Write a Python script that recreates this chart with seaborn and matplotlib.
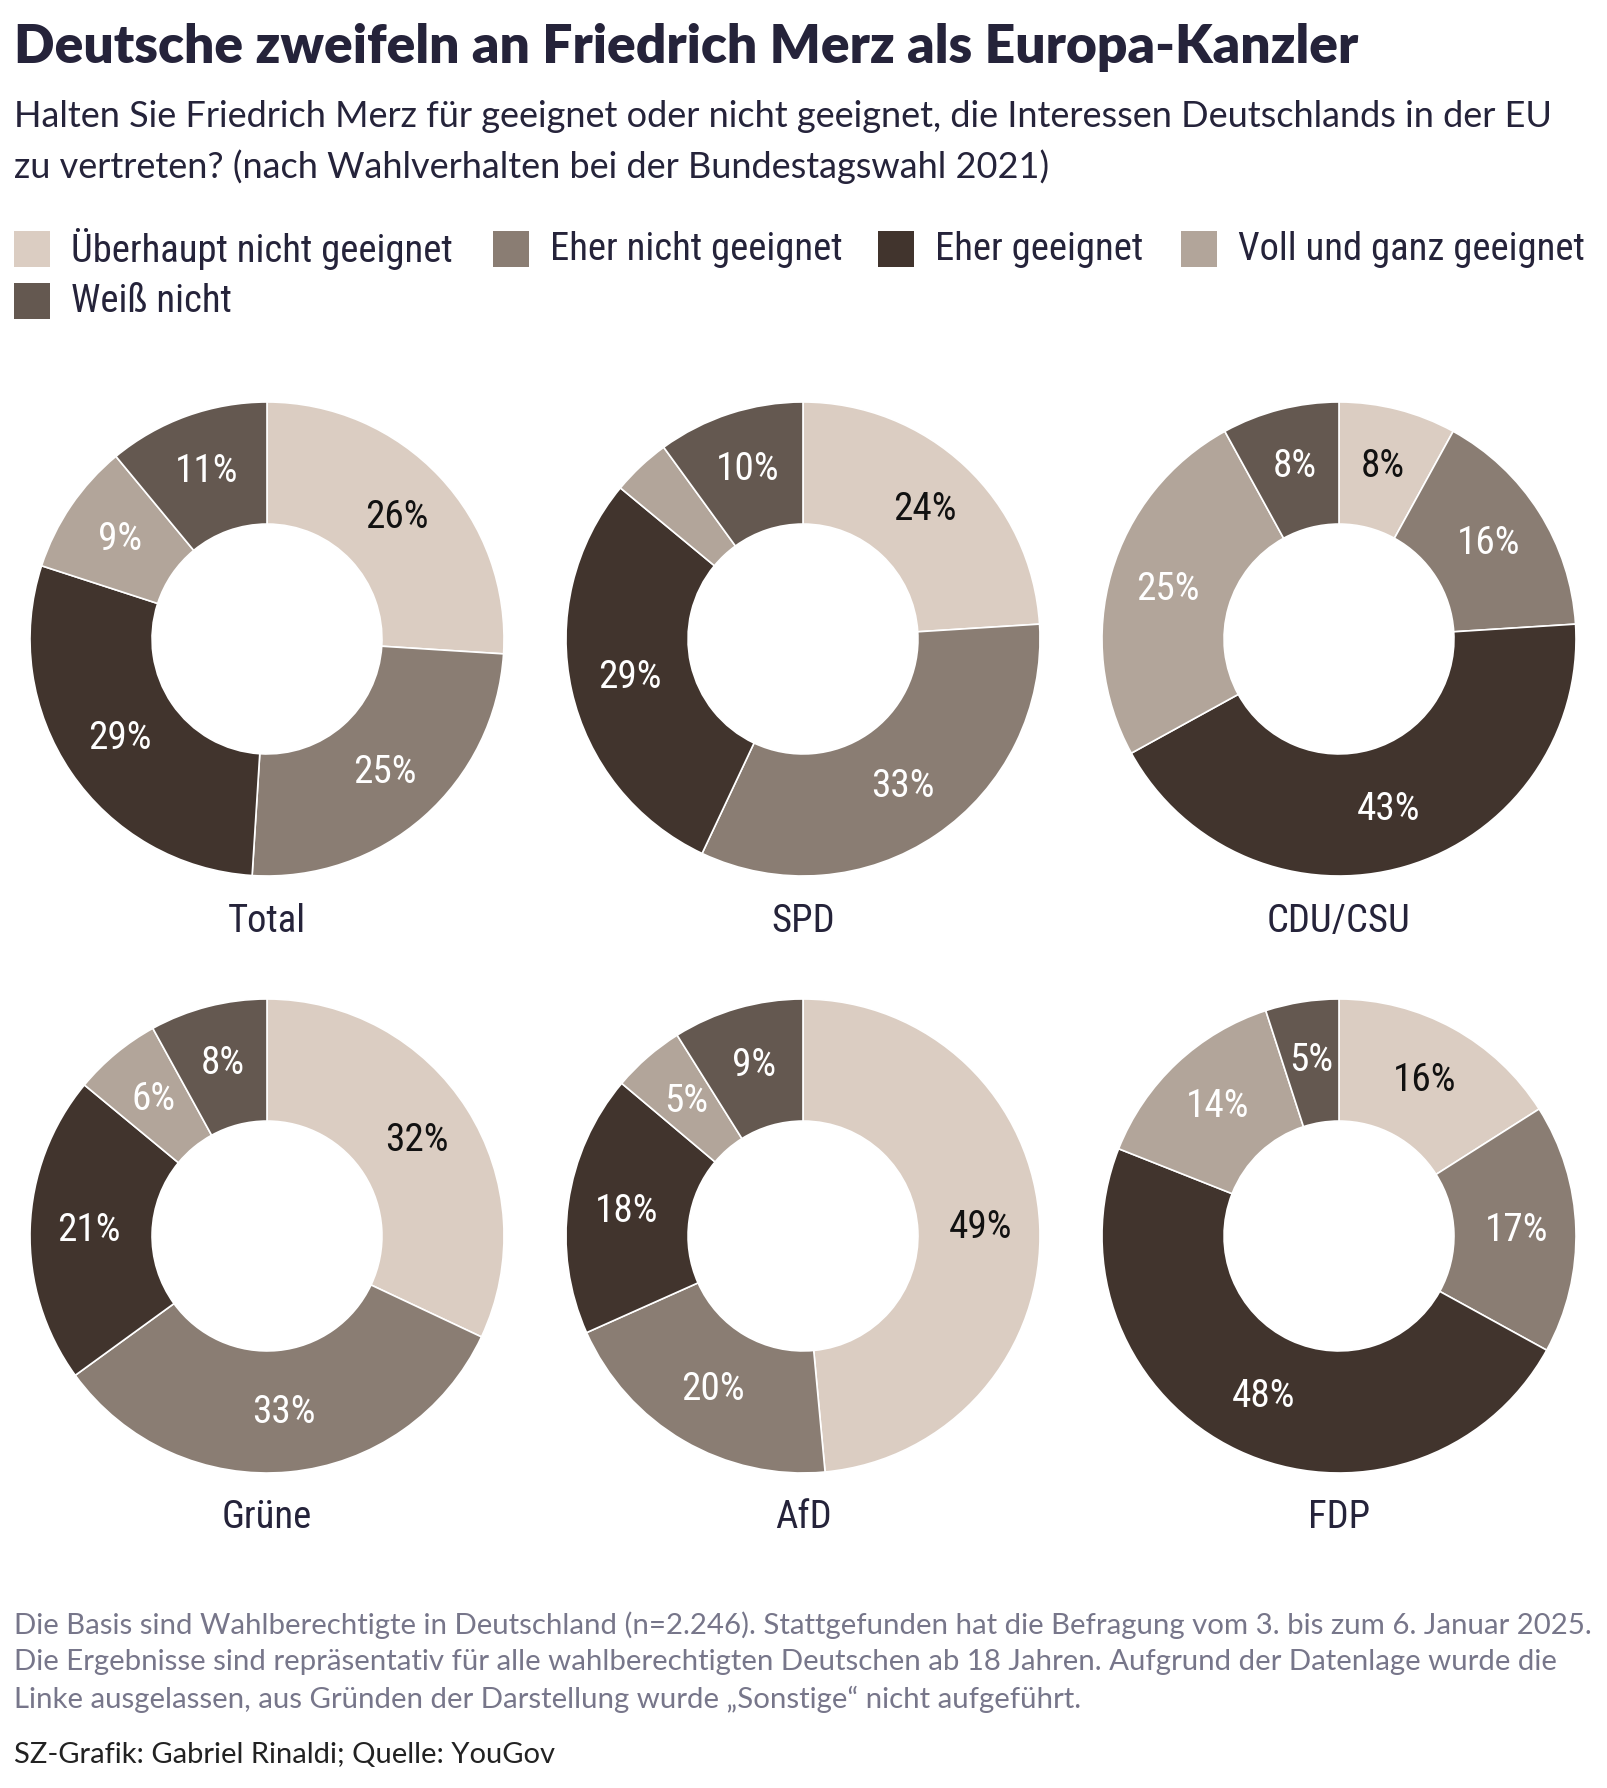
"""
Donut-Diagramme: Eignung von Friedrich Merz als Europa-Kanzler
"""

import matplotlib
matplotlib.use("Agg")
import matplotlib.pyplot as plt
from matplotlib import font_manager
from matplotlib.patches import Rectangle
import numpy as np
import seaborn as sns

# Daten
categories = ["Überhaupt nicht geeignet", "Eher nicht geeignet", "Eher geeignet",
              "Voll und ganz geeignet", "Weiß nicht"]
colors = ["#dbcdc2", "#8a7d73", "#41342d", "#b2a59a", "#645850"]
label_colors = ["#111111", "white", "white", "white", "white"]

groups = ["Total", "SPD", "CDU/CSU", "Grüne", "AfD", "FDP"]
total = [26, 25, 29, 9, 11]
spd = [24, 33, 29, 4, 10]
cdu = [8, 16, 43, 25, 8]
gruene = [32, 33, 21, 6, 8]
afd = [49, 20, 18, 5, 9]
fdp = [16, 17, 48, 14, 5]
values = [total, spd, cdu, gruene, afd, fdp]
# kleines Segment ohne Beschriftung in der Vorlage (SPD "Voll und ganz")
hidden = {("SPD", 3)}

sns.set_theme(style="white")
plt.rcParams["font.family"] = ["Lato", "DejaVu Sans"]

# schmale Schrift suchen, sonst Lato
fonts = font_manager.fontManager.ttflist
names = {f.name for f in fonts}
COND_STRETCH = "normal"
COND = None
for cand in ["Roboto Condensed", "Open Sans Condensed", "Noto Sans Condensed",
             "Liberation Sans Narrow", "DejaVu Sans Condensed", "Lato Condensed"]:
    if cand in names:
        COND = cand
        break
if COND is None:
    for f in fonts:
        if f.stretch in ("condensed", "semi-condensed", "extra-condensed") and "Mono" not in f.name \
                and "Serif" not in f.name:
            COND = f.name
            COND_STRETCH = f.stretch
            break
if COND is None:
    COND = "Lato"
    csize = 25
else:
    csize = 27.8
CFONT = dict(family=[COND, "DejaVu Sans"], fontstretch=COND_STRETCH)

W, H = 1608, 1788
fig = plt.figure(figsize=(W / 100, H / 100), dpi=100)
fig.patch.set_facecolor("white")

DARK = "#25233a"

# Titel und Untertitel
fig.text(14 / W, 1 - 48 / H, "Deutsche zweifeln an Friedrich Merz als Europa-Kanzler",
         fontsize=38.4, fontweight="heavy", color=DARK, va="center", ha="left")
fig.text(14 / W, 1 - 142 / H,
         "Halten Sie Friedrich Merz für geeignet oder nicht geeignet, die Interessen Deutschlands in der EU\n"
         "zu vertreten? (nach Wahlverhalten bei der Bundestagswahl 2021)",
         fontsize=26, color=DARK, va="center", ha="left", linespacing=1.54)

# Legende
leg_sq_x = [14, 493, 878, 1181, 14]
leg_y = [249, 249, 249, 249, 301]
for i, cat in enumerate(categories):
    fig.patches.append(Rectangle((leg_sq_x[i] / W, 1 - (leg_y[i] + 18) / H), 36 / W, 36 / H,
                                 transform=fig.transFigure, facecolor=colors[i], edgecolor="none"))
    fig.text((leg_sq_x[i] + 57) / W, 1 - leg_y[i] / H, cat, fontsize=csize, color=DARK,
             va="center", ha="left", **CFONT)

# Donuts
cx = [267, 803, 1339]
cy = [639, 1236]
R = 237
for k, (name, vals) in enumerate(zip(groups, values)):
    x0 = cx[k % 3]
    y0 = cy[k // 3]
    ax = fig.add_axes([(x0 - R) / W, 1 - (y0 + R) / H, 2 * R / W, 2 * R / H])
    ax.pie(vals, colors=colors, startangle=90, counterclock=False, radius=1,
           wedgeprops=dict(width=0.515, edgecolor="white", linewidth=1.2))
    tot = sum(vals)
    ang = 90.0
    for i, v in enumerate(vals):
        mid = ang - v / tot * 180.0
        ang -= v / tot * 360.0
        if (name, i) in hidden:
            continue
        r = 0.75
        ax.text(r * np.cos(np.radians(mid)), r * np.sin(np.radians(mid)), f"{v}%",
                ha="center", va="center", fontsize=csize + 0.5, color=label_colors[i], **CFONT)
    ax.set_xlim(-1, 1)
    ax.set_ylim(-1, 1)
    ax.set_aspect("equal")
    ax.axis("off")
    fig.text(x0 / W, 1 - (y0 + 282) / H, name, fontsize=csize, color=DARK,
             ha="center", va="center", **CFONT)

# Fußnote
GREY = "#77768a"
fig.text(14 / W, 1 - 1662 / H,
         "Die Basis sind Wahlberechtigte in Deutschland (n=2.246). Stattgefunden hat die Befragung vom 3. bis zum 6. Januar 2025.\n"
         "Die Ergebnisse sind repräsentativ für alle wahlberechtigten Deutschen ab 18 Jahren. Aufgrund der Datenlage wurde die\n"
         "Linke ausgelassen, aus Gründen der Darstellung wurde „Sonstige“ nicht aufgeführt.",
         fontsize=21.2, color=GREY, va="center", ha="left", linespacing=1.48)
fig.text(14 / W, 1 - 1755 / H, "SZ-Grafik: Gabriel Rinaldi; Quelle: YouGov",
         fontsize=21, color="#222222", va="center", ha="left")

fig.savefig("out.png", dpi=100, facecolor="white")
plt.close(fig)
